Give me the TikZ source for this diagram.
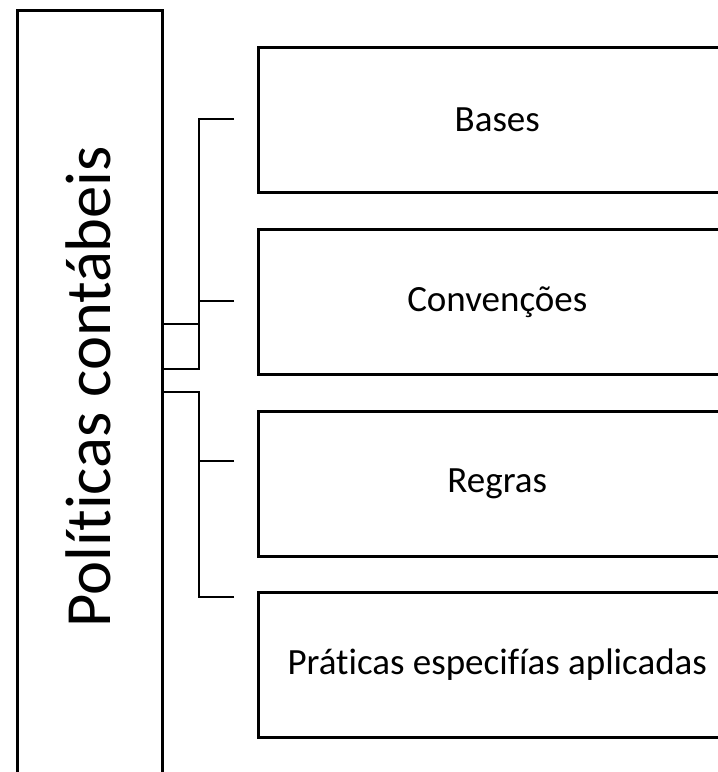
\documentclass[tikz,border=0pt]{standalone}
\usepackage{fontspec}
\setmainfont{Carlito}[Ligatures=NoCommon]
\begin{document}
\begin{tikzpicture}[x=1pt,y=-1pt,
  box/.style={draw=black,line width=3pt,minimum width=477.5pt,minimum height=145pt,inner sep=0pt,font=\fontsize{37}{44}\selectfont},
  conn/.style={draw=black,line width=2pt},
  bigrect/.style={draw=black,line width=3pt,minimum width=145pt,minimum height=790pt,inner sep=0pt}]
\useasboundingbox (0,0) rectangle (718,772);
\clip (0,0) rectangle (718,772);
\node[bigrect,anchor=north] (main) at (90,9) {};
\node[rotate=90,font=\fontsize{64.5}{72}\selectfont,inner sep=0pt] (title) at (88.5,386.5) {Políticas contábeis};
\node[box] (b1) at (497.25,119.5) {Bases};
\node[box] (b2) at (497.25,301.75) {Convenções};
\node[box] (b3) at (497.25,483.5) {Regras};
\node[box] (b4) at (497.25,665) {Práticas especifías aplicadas};
\coordinate (e1) at (234,119);
\coordinate (e2) at (234,301);
\coordinate (e3) at (234,461);
\coordinate (e4) at (234,597);
\coordinate (j1) at (163,324);
\coordinate (j2) at (163,369);
\coordinate (j3) at (163,392);
\draw[conn] (e1) -- (199,119) -- (199,324) -- (j1);
\draw[conn] (e2) -- (199,301) -- (199,369) -- (j2);
\draw[conn] (e3) -- (199,461) -- (199,392) -- (j3);
\draw[conn] (e4) -- (199,597) -- (199,392) -- (j3);
\end{tikzpicture}
\end{document}
